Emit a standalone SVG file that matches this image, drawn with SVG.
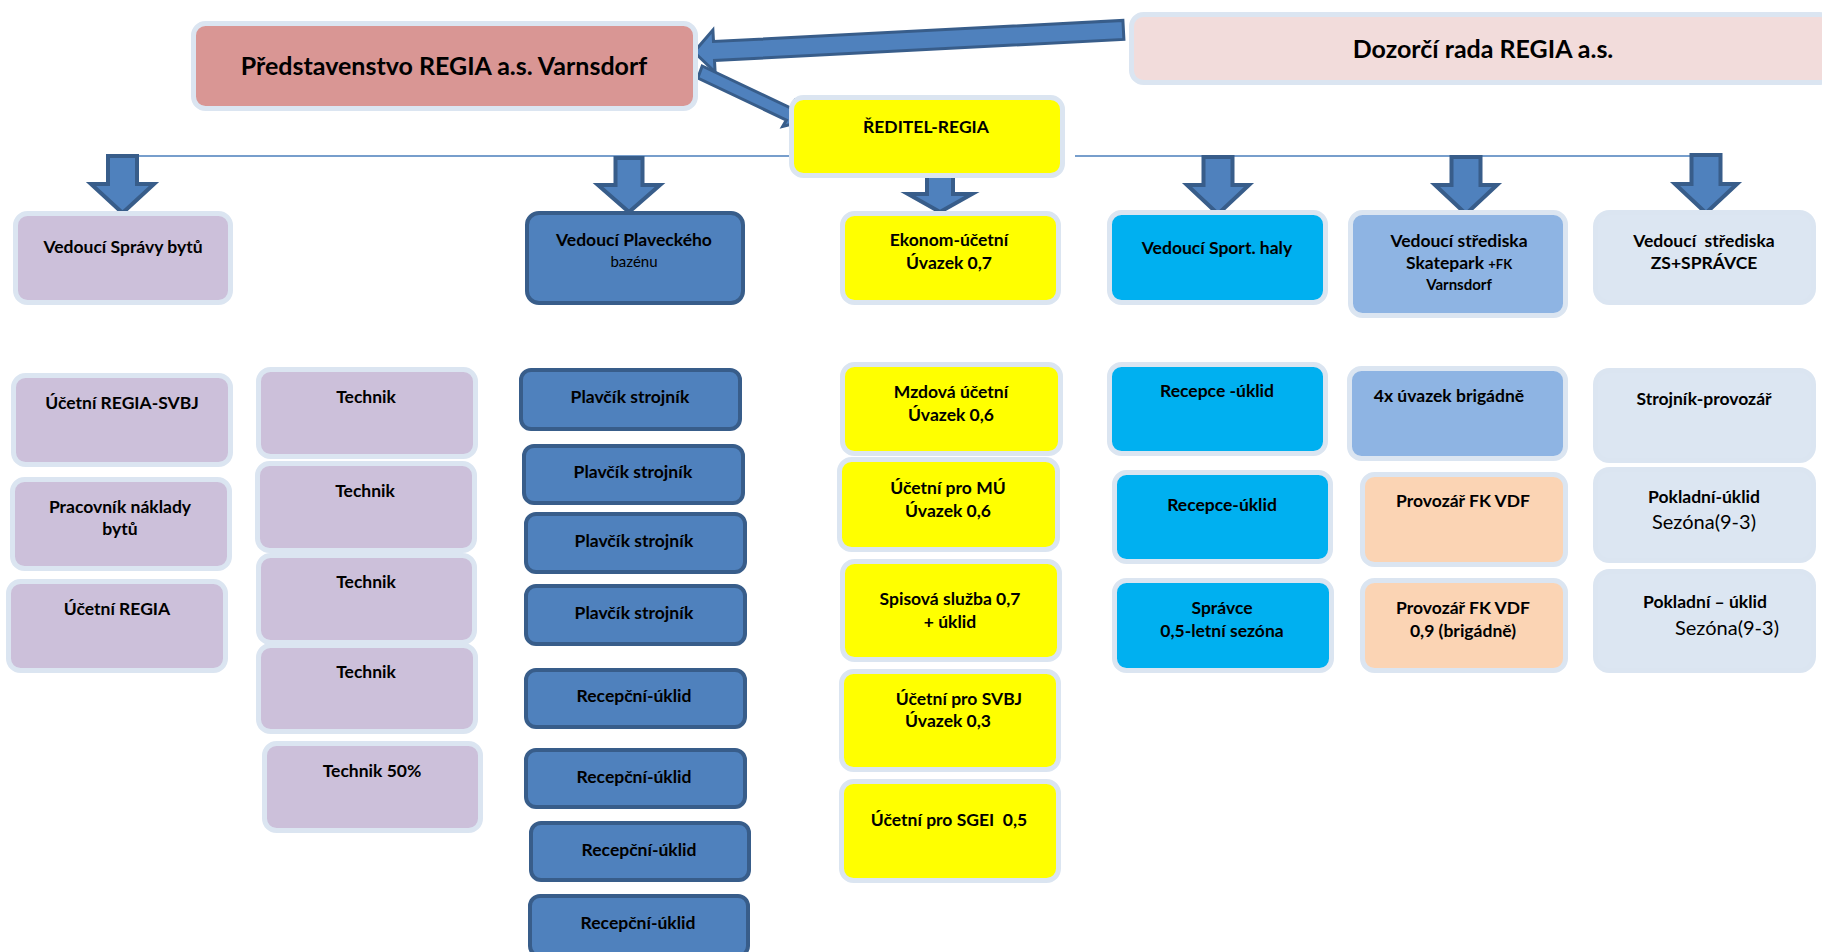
<svg xmlns="http://www.w3.org/2000/svg" width="1822" height="952" viewBox="0 0 1822 952">
<defs>
<style>
text{font-family:Lato,"Liberation Sans",sans-serif;font-weight:bold;fill:#000;text-anchor:middle;font-size:17.5px}
.lb{stroke:#DBE5F1;stroke-width:5}
.db{fill:#4F81BD;stroke:#385D8A;stroke-width:4}
.pink{fill:#D99694}
.rose{fill:#F2DCDB}
.yel{fill:#FFFF00}
.lav{fill:#CCC0DA}
.cyan{fill:#00B0F0}
.sky{fill:#8EB4E3}
.pale{fill:#DCE6F2}
.peach{fill:#FBD4B4}
text.big{font-size:25px}
text.sm{font-size:15px}
tspan.xs{font-size:13px}
text.reg{font-weight:normal}
text.sez{font-weight:normal;font-size:20px}
.arr{fill:#4F81BD;stroke:#385D8A;stroke-width:4;stroke-linejoin:miter}
.arr2{fill:#4F81BD;stroke:#385D8A;stroke-width:3;stroke-linejoin:miter}
</style>
</defs>
<rect width="1822" height="952" fill="#FFFFFF"/>

<g id="connectors">
<line x1="138" y1="156" x2="802" y2="156" stroke="#4A7EBB" stroke-width="1.5"/>
<line x1="1075" y1="156" x2="1690" y2="156" stroke="#4A7EBB" stroke-width="1.5"/>
<polygon class="arr2" points="694,52 712.9,30 713.5,41.5 1122.9,20.4 1123.9,39.4 714.5,60.5 715.1,72"/>
<polygon class="arr2" points="702.2,66 790.8,108.1 794.5,101.3 804.5,121 782.7,126.4 786.4,120.1 697.8,78"/>
<polygon class="arr" points="108,156 137,156 137,184 154,184 122.5,213 91,184 108,184"/>
<polygon class="arr" points="615.5,158 642.5,158 642.5,185 660,185 629,212 598,185 615.5,185"/>
<polygon class="arr" points="927,175 953,175 953,194 972,194 940,212 908,194 927,194"/>
<polygon class="arr" points="1203.5,157 1232.5,157 1232.5,185 1249,185 1218,214 1187,185 1203.5,185"/>
<polygon class="arr" points="1451.5,157 1480.5,157 1480.5,185 1497,185 1466,214 1435,185 1451.5,185"/>
<polygon class="arr" points="1691.5,155 1720.5,155 1720.5,184 1737,184 1706,213 1675,184 1691.5,184"/>
</g>

<g id="n-predstavenstvo"><rect class="lb pink" x="193.5" y="23.5" width="502" height="85" rx="12"/><text class="big" x="444" y="75">Představenstvo REGIA a.s. Varnsdorf</text></g>
<g id="n-dozorci"><rect class="lb rose" x="1131.5" y="14.5" width="700" height="68" rx="12"/><text class="big" x="1483" y="58">Dozorčí rada REGIA a.s.</text></g>
<g id="n-reditel"><rect class="lb yel" x="791.5" y="97.5" width="271" height="78" rx="12"/><text x="926" y="133">ŘEDITEL-REGIA</text></g>

<g id="n-spravy"><rect class="lb lav" x="15.5" y="213.5" width="215" height="89" rx="12"/><text x="123" y="253">Vedoucí Správy bytů</text></g>
<g id="n-plavecky"><rect class="db" x="527" y="213" width="216" height="90" rx="12"/><text x="634" y="246">Vedoucí Plaveckého</text><text class="reg sm" x="634" y="267">bazénu</text></g>
<g id="n-ekonom"><rect class="lb yel" x="842.5" y="213.5" width="216" height="89" rx="12"/><text x="949" y="246">Ekonom-účetní</text><text x="949" y="269">Úvazek 0,7</text></g>
<g id="n-sporthala"><rect class="lb cyan" x="1109.5" y="212.5" width="216" height="90" rx="12"/><text x="1217" y="254">Vedoucí Sport. haly</text></g>
<g id="n-skatepark"><rect class="lb sky" x="1350.5" y="212.5" width="215" height="103" rx="12"/><text x="1459" y="247">Vedoucí střediska</text><text x="1459" y="269">Skatepark <tspan class="xs">+FK</tspan></text><text class="sm" x="1459" y="290">Varnsdorf</text></g>
<g id="n-zs"><rect class="lb pale" x="1595.5" y="212.5" width="218" height="90" rx="14"/><text x="1704" y="247" xml:space="preserve">Vedoucí  střediska</text><text x="1704" y="269">ZS+SPRÁVCE</text></g>

<g id="n-ucetni-svbj"><rect class="lb lav" x="13.5" y="375.5" width="217" height="89" rx="12"/><text x="122" y="409">Účetní REGIA-SVBJ</text></g>
<g id="n-pracovnik"><rect class="lb lav" x="12.5" y="479.5" width="217" height="89" rx="12"/><text x="120" y="513">Pracovník náklady</text><text x="120" y="535">bytů</text></g>
<g id="n-ucetni-regia"><rect class="lb lav" x="8.5" y="581.5" width="217" height="89" rx="12"/><text x="117" y="615">Účetní REGIA</text></g>

<g id="n-technik1"><rect class="lb lav" x="258.5" y="369.5" width="217" height="87" rx="12"/><text x="366" y="403">Technik</text></g>
<g id="n-technik2"><rect class="lb lav" x="257.5" y="463.5" width="217" height="87" rx="12"/><text x="365" y="497">Technik</text></g>
<g id="n-technik3"><rect class="lb lav" x="258.5" y="555.5" width="216" height="87" rx="12"/><text x="366" y="588">Technik</text></g>
<g id="n-technik4"><rect class="lb lav" x="258.5" y="645.5" width="217" height="86" rx="12"/><text x="366" y="678">Technik</text></g>
<g id="n-technik50"><rect class="lb lav" x="264.5" y="743.5" width="216" height="87" rx="12"/><text x="372" y="777">Technik 50%</text></g>

<g id="n-plavcik1"><rect class="db" x="521" y="370" width="219" height="59" rx="10"/><text x="630" y="403">Plavčík strojník</text></g>
<g id="n-plavcik2"><rect class="db" x="524" y="446" width="219" height="57" rx="10"/><text x="633" y="478">Plavčík strojník</text></g>
<g id="n-plavcik3"><rect class="db" x="526" y="514" width="219" height="58" rx="10"/><text x="634" y="547">Plavčík strojník</text></g>
<g id="n-plavcik4"><rect class="db" x="526" y="586" width="219" height="58" rx="10"/><text x="634" y="619">Plavčík strojník</text></g>
<g id="n-recepcni1"><rect class="db" x="526" y="670" width="219" height="57" rx="10"/><text x="634" y="702">Recepční-úklid</text></g>
<g id="n-recepcni2"><rect class="db" x="526" y="750" width="219" height="57" rx="10"/><text x="634" y="783">Recepční-úklid</text></g>
<g id="n-recepcni3"><rect class="db" x="531" y="823" width="218" height="57" rx="10"/><text x="639" y="856">Recepční-úklid</text></g>
<g id="n-recepcni4"><rect class="db" x="530" y="896" width="218" height="60" rx="10"/><text x="638" y="929">Recepční-úklid</text></g>

<g id="n-mzdova"><rect class="lb yel" x="842.5" y="364.5" width="218" height="89" rx="12"/><text x="951" y="398">Mzdová účetní</text><text x="951" y="421">Úvazek 0,6</text></g>
<g id="n-ucetni-mu"><rect class="lb yel" x="839.5" y="459.5" width="218" height="90" rx="12"/><text x="948" y="494">Účetní pro MÚ</text><text x="948" y="517">Úvazek 0,6</text></g>
<g id="n-spisova"><rect class="lb yel" x="842.5" y="561.5" width="217" height="98" rx="12"/><text x="950" y="605">Spisová služba 0,7</text><text x="950" y="628">+ úklid</text></g>
<g id="n-ucetni-svbj2"><rect class="lb yel" x="841.5" y="671.5" width="217" height="98" rx="12"/><text x="959" y="705">Účetní pro SVBJ</text><text x="948" y="727">Úvazek 0,3</text></g>
<g id="n-ucetni-sgei"><rect class="lb yel" x="841.5" y="781.5" width="217" height="99" rx="12"/><text x="949" y="826" xml:space="preserve">Účetní pro SGEI  0,5</text></g>

<g id="n-recepce1"><rect class="lb cyan" x="1109.5" y="364.5" width="216" height="89" rx="12"/><text x="1217" y="397">Recepce -úklid</text></g>
<g id="n-recepce2"><rect class="lb cyan" x="1114.5" y="472.5" width="216" height="89" rx="12"/><text x="1222" y="511">Recepce-úklid</text></g>
<g id="n-spravce"><rect class="lb cyan" x="1114.5" y="580.5" width="217" height="90" rx="12"/><text x="1222" y="614">Správce</text><text x="1222" y="637">0,5-letní sezóna</text></g>

<g id="n-4x"><rect class="lb sky" x="1349.5" y="368.5" width="216" height="90" rx="12"/><text x="1449" y="402">4x úvazek brigádně</text></g>
<g id="n-provozar1"><rect class="lb peach" x="1362.5" y="474.5" width="203" height="90" rx="12"/><text x="1463" y="507">Provozář FK VDF</text></g>
<g id="n-provozar2"><rect class="lb peach" x="1362.5" y="580.5" width="203" height="90" rx="12"/><text x="1463" y="614">Provozář FK VDF</text><text x="1463" y="637">0,9 (brigádně)</text></g>

<g id="n-strojnik"><rect class="lb pale" x="1595.5" y="370.5" width="218" height="90" rx="14"/><text x="1704" y="405">Strojník-provozář</text></g>
<g id="n-pokladni1"><rect class="lb pale" x="1595.5" y="469.5" width="218" height="91" rx="14"/><text x="1704" y="503">Pokladní-úklid</text><text class="sez" x="1704" y="529">Sezóna(9-3)</text></g>
<g id="n-pokladni2"><rect class="lb pale" x="1595.5" y="571.5" width="218" height="99" rx="14"/><text x="1705" y="608">Pokladní – úklid</text><text class="sez" x="1727" y="635">Sezóna(9-3)</text></g>
</svg>
